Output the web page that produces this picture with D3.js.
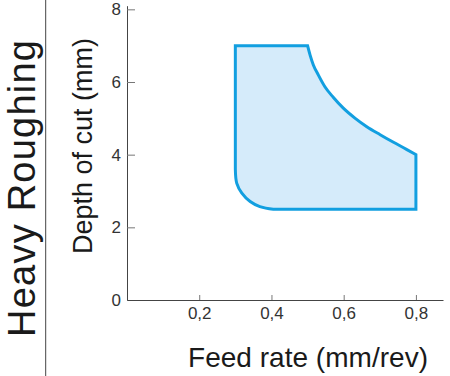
<!DOCTYPE html>
<html>
<head>
<meta charset="utf-8">
<script src="https://cdn.jsdelivr.net/npm/d3@7"></script>
<style>
  html, body { margin: 0; padding: 0; background: #fff; }
  svg { display: block; font-family: "Liberation Sans", Arial, sans-serif; }
</style>
</head>
<body>
<svg id="chart" width="450" height="376"></svg>
<script>
// ---- data ----
const xTicks = [0.2, 0.4, 0.6, 0.8];
const yTicks = [0, 2, 4, 6, 8];
const topEdge = [[0.3, 7], [0.5, 7]];
const upperCurve = [[0.5, 7.0], [0.507, 6.74], [0.516, 6.47], [0.530, 6.19], [0.548, 5.87],
                    [0.571, 5.58], [0.599, 5.28], [0.632, 5.00], [0.664, 4.77], [0.701, 4.55],
                    [0.738, 4.34], [0.775, 4.14], [0.8, 4.0]];
const rightEdge = [[0.8, 4.0], [0.8, 2.5]];
const bottomEdge = [[0.8, 2.5], [0.43, 2.5]];
const lowerCurve = [[0.43, 2.5], [0.405, 2.5], [0.368, 2.57], [0.341, 2.71], [0.318, 2.94],
                    [0.304, 3.21], [0.3, 3.6]];
const xTitle = "Feed rate (mm/rev)";
const yTitle = "Depth of cut (mm)";
const sideTitle = "Heavy Roughing";

const svg = d3.select("#chart");

const x = d3.scaleLinear().domain([0, 0.875]).range([127, 443]);
const y = d3.scaleLinear().domain([0, 8.1]).range([300, 5.7]);

// side divider
svg.append("line").attr("x1", 45.7).attr("x2", 45.7).attr("y1", 0).attr("y2", 376)
  .attr("stroke", "#444").attr("stroke-width", 1);

// side title
svg.append("text")
  .attr("transform", "translate(35,337) rotate(-90)")
  .attr("font-size", 38).attr("fill", "#1a1a1a")
  .attr("textLength", 297).attr("lengthAdjust", "spacing")
  .text(sideTitle);

// region shape
const lin = d3.line().x(d => x(d[0])).y(d => y(d[1]));
const crvU = d3.line().x(d => x(d[0])).y(d => y(d[1])).curve(d3.curveMonotoneX);
const crvL = d3.line().x(d => x(d[0])).y(d => y(d[1])).curve(d3.curveCatmullRom.alpha(0.5));
const pieces = [lin(topEdge), crvU(upperCurve), lin(rightEdge), lin(bottomEdge), crvL(lowerCurve)];
const dStr = pieces.map((p, i) => i === 0 ? p : "L" + p.slice(1)).join("") + "Z";
svg.append("path").attr("d", dStr)
  .attr("fill", "#d5ebfa").attr("stroke", "#129fe0").attr("stroke-width", 3)
  .attr("stroke-linejoin", "miter");

// axes
const yAxis = d3.axisLeft(y).tickValues(yTicks).tickSizeInner(-8).tickSizeOuter(0).tickPadding(6)
  .tickFormat(d3.format("d"));
const gy = svg.append("g").attr("transform", `translate(${x(0)},0)`).call(yAxis);
gy.select(".domain").attr("stroke", "#444");
gy.selectAll(".tick line").attr("stroke", "#777");
gy.selectAll(".tick text").attr("font-size", 17).attr("fill", "#333").attr("font-family", "Liberation Sans, Arial, sans-serif");

const xAxis = d3.axisBottom(x).tickValues(xTicks).tickSizeInner(-5).tickSizeOuter(0).tickPadding(7)
  .tickFormat(d => d.toFixed(1).replace(".", ","));
const gx = svg.append("g").attr("transform", `translate(0,${y(0)})`).call(xAxis);
gx.select(".domain").attr("stroke", "#444");
gx.selectAll(".tick line").attr("stroke", "#777");
gx.selectAll(".tick text").attr("font-size", 17).attr("fill", "#333").attr("font-family", "Liberation Sans, Arial, sans-serif");

// titles
svg.append("text").attr("x", 188).attr("y", 366.7)
  .attr("font-size", 28).attr("fill", "#1a1a1a")
  .attr("textLength", 240).attr("lengthAdjust", "spacing").text(xTitle);
svg.append("text").attr("transform", "translate(91.7,254) rotate(-90)")
  .attr("font-size", 27).attr("fill", "#1a1a1a").text(yTitle);
</script>
</body>
</html>
